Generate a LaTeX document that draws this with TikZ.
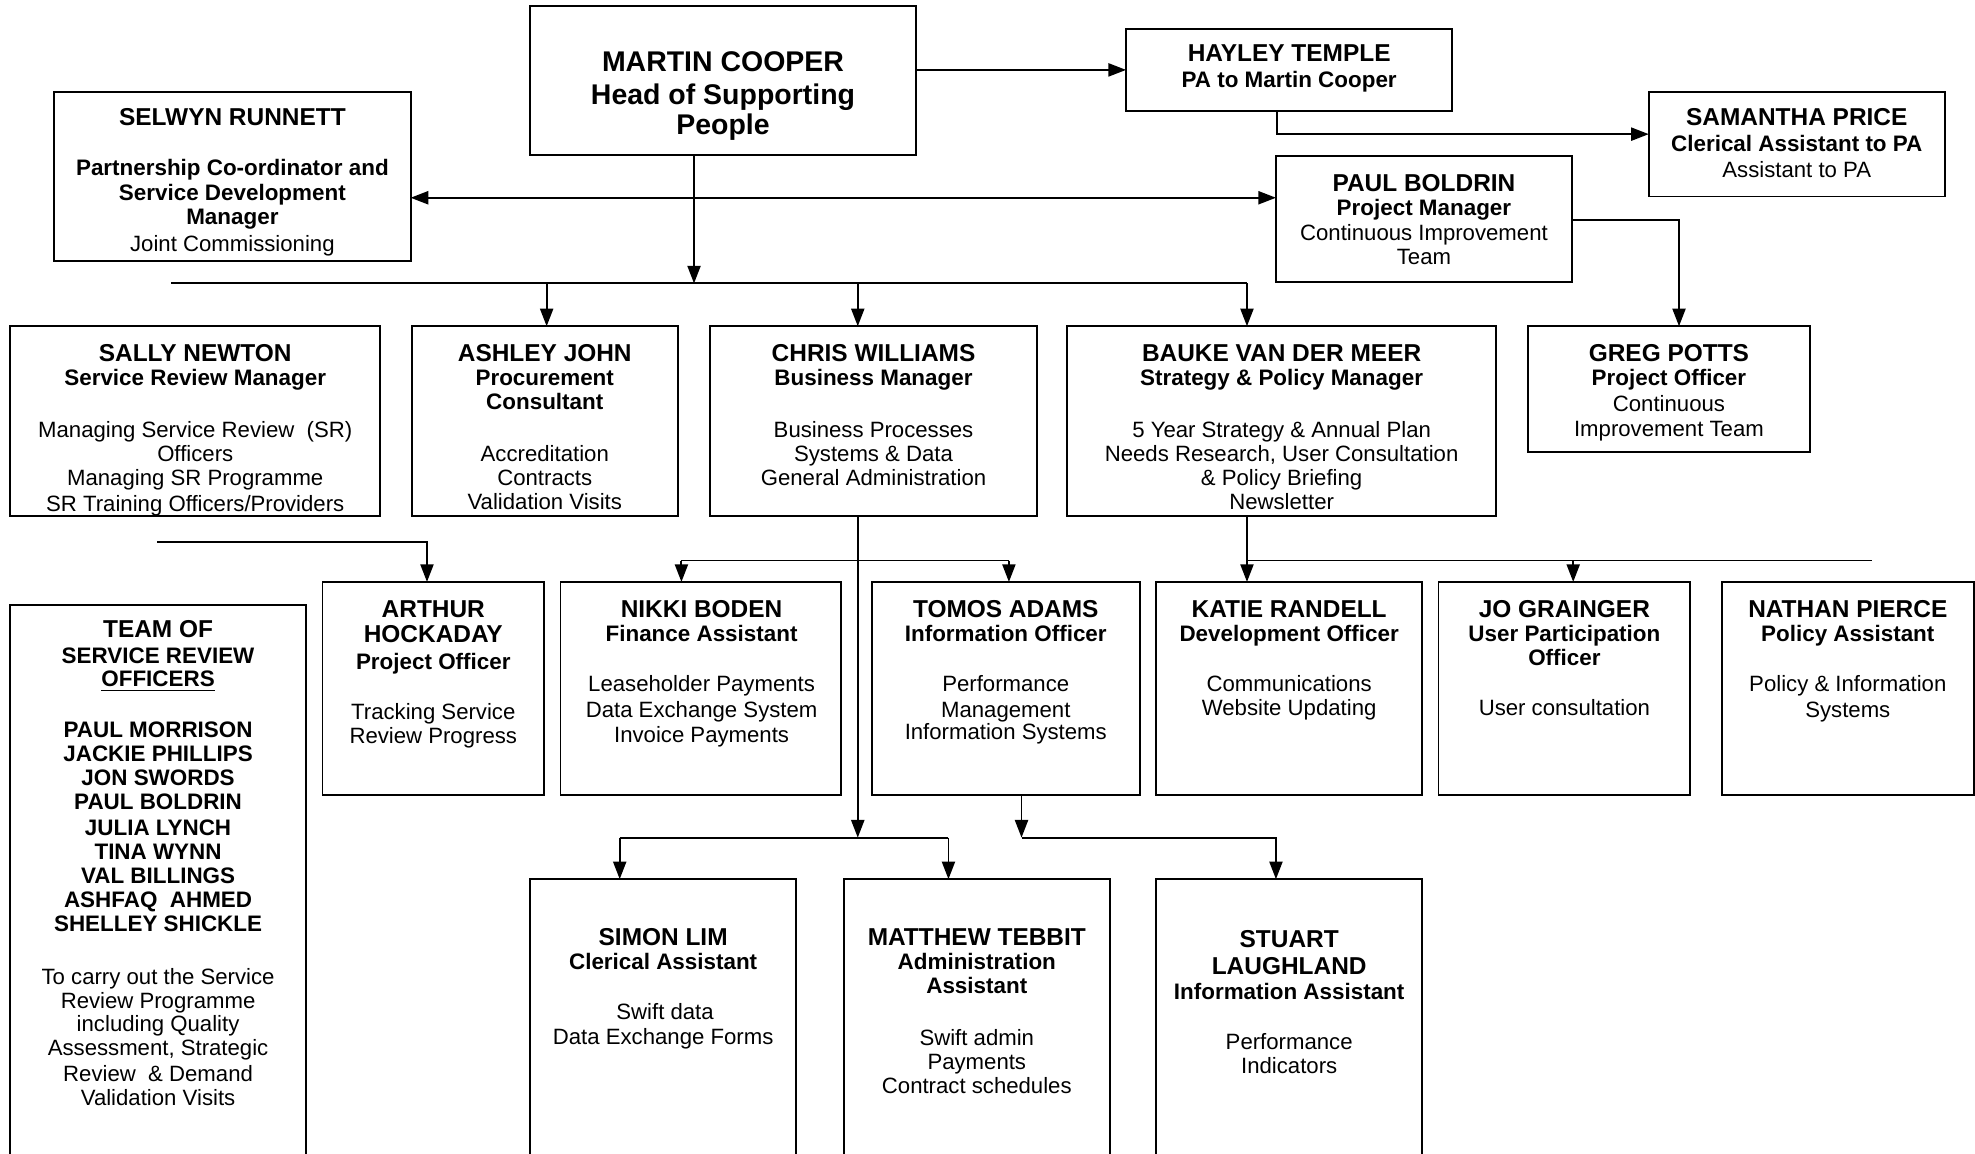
\documentclass[tikz,border=0pt]{standalone}
\usepackage{fontspec}
\setmainfont{Liberation Sans}
\usetikzlibrary{arrows.meta}
\newcounter{tln}
\newcommand\tx[4]{\stepcounter{tln}\node[#1] (t\arabic{tln}) at (#2,#3) {#4};}
\newcommand\bx[5]{\node[box, minimum width={(#4-#2)*0.5pt}, minimum height={(#5-#3)*0.5pt}] (#1) at ({(#2+#4)/2},{(#3+#5)/2}) {};}
\begin{document}
\begin{tikzpicture}[x=0.5pt,y=-0.5pt,
  box/.style={draw, line width=0.75pt, inner sep=0pt, outer sep=0pt},
  ln/.style={line width=0.75pt},
  arr/.style={line width=0.75pt, -{Triangle[length=7pt,width=5.2pt]}},
  arrtwo/.style={line width=0.75pt, {Triangle[length=7pt,width=5.2pt]}-{Triangle[length=7pt,width=5.2pt]}},
  big/.style={font=\fontsize{11.3}{13}\selectfont\bfseries, inner sep=0pt, text height=8.1pt, text depth=0pt},
  nm/.style={font=\fontsize{9.7}{11}\selectfont\bfseries, inner sep=0pt, text height=6.9pt, text depth=0pt},
  tt/.style={font=\fontsize{8.9}{10}\selectfont\bfseries, inner sep=0pt, text height=6.4pt, text depth=0pt},
  bd/.style={font=\fontsize{8.8}{10}\selectfont, inner sep=0pt, text height=6.3pt, text depth=0pt}]
\clip (0,0) rectangle (1568,916);
% boxes
\bx{mc}{421}{5}{727}{123}
\bx{ht}{894}{23}{1153}{88}
\bx{sp}{1309}{73}{1544}{156}
\bx{pb}{1013}{124}{1248}{224}
\bx{sr}{43}{73}{326}{207}
\bx{sn}{8}{259}{302}{410}
\bx{aj}{327}{259}{538}{410}
\bx{cw}{564}{259}{823}{410}
\bx{bv}{847}{259}{1188}{410}
\bx{gp}{1213}{259}{1437}{359}
\bx{ah}{256}{462}{432}{631}
\bx{nb}{445}{462}{668}{631}
\bx{ta}{692}{462}{905}{631}
\bx{kr}{918}{462}{1129}{631}
\bx{jg}{1142}{462}{1342}{631}
\bx{np}{1367}{462}{1567}{631}
\bx{team}{8}{480}{243}{950}
\bx{sl}{421}{698}{632}{950}
\bx{mt}{670}{698}{881}{950}
\bx{stl}{918}{698}{1129}{950}
% texts
\tx{big}{574}{49}{MARTIN COOPER}
\tx{big}{574}{75}{Head of Supporting}
\tx{big}{574}{99}{People}
\tx{nm}{1023.5}{42}{HAYLEY TEMPLE}
\tx{tt}{1023.5}{63}{PA to Martin Cooper}
\tx{nm}{1426.5}{93}{SAMANTHA PRICE}
\tx{tt}{1426.5}{114}{Clerical Assistant to PA}
\tx{bd}{1426.5}{135}{Assistant to PA}
\tx{nm}{1130.5}{145}{PAUL BOLDRIN}
\tx{tt}{1130.5}{165}{Project Manager}
\tx{bd}{1130.5}{185}{Continuous Improvement}
\tx{bd}{1130.5}{204}{Team}
\tx{nm}{184.5}{93}{SELWYN RUNNETT}
\tx{tt}{184.5}{133}{Partnership Co-ordinator and}
\tx{tt}{184.5}{153}{Service Development}
\tx{tt}{184.5}{172}{Manager}
\tx{bd}{184.5}{193}{Joint Commissioning}
\tx{nm}{155}{280}{SALLY NEWTON}
\tx{tt}{155}{300}{Service Review Manager}
\tx{bd}{155}{341}{Managing Service Review \ (SR)}
\tx{bd}{155}{360}{Officers}
\tx{bd}{155}{379}{Managing SR Programme}
\begin{scope}
\clip (8,259) rectangle (302,409);
\tx{bd}{155}{400}{SR Training Officers/Providers}
\end{scope}
\tx{nm}{432.5}{280}{ASHLEY JOHN}
\tx{tt}{432.5}{300}{Procurement}
\tx{tt}{432.5}{319}{Consultant}
\tx{bd}{432.5}{360}{Accreditation}
\tx{bd}{432.5}{379}{Contracts}
\tx{bd}{432.5}{398}{Validation Visits}
\tx{nm}{693.5}{280}{CHRIS WILLIAMS}
\tx{tt}{693.5}{300}{Business Manager}
\tx{bd}{693.5}{341}{Business Processes}
\tx{bd}{693.5}{360}{Systems \& Data}
\tx{bd}{693.5}{379}{General Administration}
\tx{nm}{1017.5}{280}{BAUKE VAN DER MEER}
\tx{tt}{1017.5}{300}{Strategy \& Policy Manager}
\tx{bd}{1017.5}{341}{5 Year Strategy \& Annual Plan}
\tx{bd}{1017.5}{360}{Needs Research, User Consultation}
\tx{bd}{1017.5}{379}{\& Policy Briefing}
\tx{bd}{1017.5}{398}{Newsletter}
\tx{nm}{1325}{280}{GREG POTTS}
\tx{tt}{1325}{300}{Project Officer}
\tx{bd}{1325}{320}{Continuous}
\tx{bd}{1325}{340}{Improvement Team}
\tx{nm}{344}{483}{ARTHUR}
\tx{nm}{344}{503}{HOCKADAY}
\tx{tt}{344}{525}{Project Officer}
\tx{bd}{344}{565}{Tracking Service}
\tx{bd}{344}{584}{Review Progress}
\tx{nm}{557}{483}{NIKKI BODEN}
\tx{tt}{557}{503}{Finance Assistant}
\tx{bd}{557}{543}{Leaseholder Payments}
\tx{bd}{557}{563}{Data Exchange System}
\tx{bd}{557}{583}{Invoice Payments}
\tx{nm}{798.5}{483}{TOMOS ADAMS}
\tx{tt}{798.5}{503}{Information Officer}
\tx{bd}{798.5}{543}{Performance}
\tx{bd}{798.5}{563}{Management}
\tx{bd}{798.5}{581}{Information Systems}
\tx{nm}{1023.5}{483}{KATIE RANDELL}
\tx{tt}{1023.5}{503}{Development Officer}
\tx{bd}{1023.5}{543}{Communications}
\tx{bd}{1023.5}{562}{Website Updating}
\tx{nm}{1242}{483}{JO GRAINGER}
\tx{tt}{1242}{503}{User Participation}
\tx{tt}{1242}{522}{Officer}
\tx{bd}{1242}{562}{User consultation}
\tx{nm}{1467}{483}{NATHAN PIERCE}
\tx{tt}{1467}{503}{Policy Assistant}
\tx{bd}{1467}{543}{Policy \& Information}
\tx{bd}{1467}{563}{Systems}
\tx{nm}{125.5}{499}{TEAM OF}
\tx{tt}{125.5}{520}{SERVICE REVIEW}
\tx{tt}{125.5}{539}{\underline{OFFICERS}}
\tx{tt}{125.5}{579}{PAUL MORRISON}
\tx{tt}{125.5}{598}{JACKIE PHILLIPS}
\tx{tt}{125.5}{617}{JON SWORDS}
\tx{tt}{125.5}{636}{PAUL BOLDRIN}
\tx{tt}{125.5}{657}{JULIA LYNCH}
\tx{tt}{125.5}{676}{TINA WYNN}
\tx{tt}{125.5}{695}{VAL BILLINGS}
\tx{tt}{125.5}{714}{ASHFAQ \ AHMED}
\tx{tt}{125.5}{733}{SHELLEY SHICKLE}
\tx{bd}{125.5}{775}{To carry out the Service}
\tx{bd}{125.5}{794}{Review Programme}
\tx{bd}{125.5}{813}{including Quality}
\tx{bd}{125.5}{832}{Assessment, Strategic}
\tx{bd}{125.5}{852}{Review \ \& Demand}
\tx{bd}{125.5}{871}{Validation Visits}
\tx{nm}{526.5}{744}{SIMON LIM}
\tx{tt}{526.5}{763}{Clerical Assistant}
\tx{bd}{528}{803}{Swift data}
\tx{bd}{526.5}{823}{Data Exchange Forms}
\tx{nm}{775.5}{744}{MATTHEW TEBBIT}
\tx{tt}{775.5}{763}{Administration}
\tx{tt}{775.5}{782}{Assistant}
\tx{bd}{775.5}{824}{Swift admin}
\tx{bd}{775.5}{843}{Payments}
\tx{bd}{775.5}{862}{Contract schedules}
\tx{nm}{1023.5}{745}{STUART}
\tx{nm}{1023.5}{767}{LAUGHLAND}
\tx{tt}{1023.5}{787}{Information Assistant}
\tx{bd}{1023.5}{827}{Performance}
\tx{bd}{1023.5}{846}{Indicators}
% connectors
\draw[arr] (mc.east |- ht.west) -- (ht.west);
\coordinate (h0) at (1014,106.5);
\draw[arr] (ht.south -| h0) -- (h0) -- (h0 -| sp.west);
\coordinate (k0) at (0,157);
\draw[arrtwo] (sr.east |- k0) -- (pb.west |- k0);
\coordinate (a1) at (551,225);
\draw[arr] (mc.south -| a1) -- (a1);
\coordinate (b0) at (136,225);
\coordinate (bA) at (434,225);
\coordinate (bC) at (681,225);
\coordinate (bB) at (990,225);
\draw[ln] (b0) -- (bB);
\draw[arr] (bA) -- (bA |- aj.north);
\draw[arr] (bC) -- (bC |- cw.north);
\draw[arr] (bB) -- (bB |- bv.north);
\coordinate (g0) at (1333,175);
\draw[arr] (pb.east |- g0) -| (gp.north -| g0);
\coordinate (c1) at (681,665);
\draw[arr] (cw.south -| c1) -- (c1);
\coordinate (cL) at (541,445);
\coordinate (cR) at (801,445);
\draw[ln] (cL) -- (cR);
\draw[arr] (cL) -- (cL |- nb.north);
\draw[arr] (cR) -- (cR |- ta.north);
\coordinate (dL) at (492,665);
\coordinate (dR) at (753,665);
\draw[ln] (dL) -- (dR);
\draw[arr] (dL) -- (dL |- sl.north);
\draw[arr] (dR) -- (dR |- mt.north);
\coordinate (s0) at (125,430);
\coordinate (s1) at (339,430);
\draw[arr] (s0) -- (s1) -- (s1 |- ah.north);
\coordinate (e0) at (990,445);
\coordinate (e1) at (1249,445);
\coordinate (e2) at (1486,445);
\draw[arr] (bv.south -| e0) -- (e0 |- kr.north);
\draw[ln] (e0) -- (e2);
\draw[arr] (e1) -- (e1 |- jg.north);
\coordinate (f0) at (811,665);
\coordinate (f1) at (1013,665);
\draw[arr] (ta.south -| f0) -- (f0);
\draw[arr] (f0) -- (f1) -- (f1 |- stl.north);
\end{tikzpicture}
\end{document}
